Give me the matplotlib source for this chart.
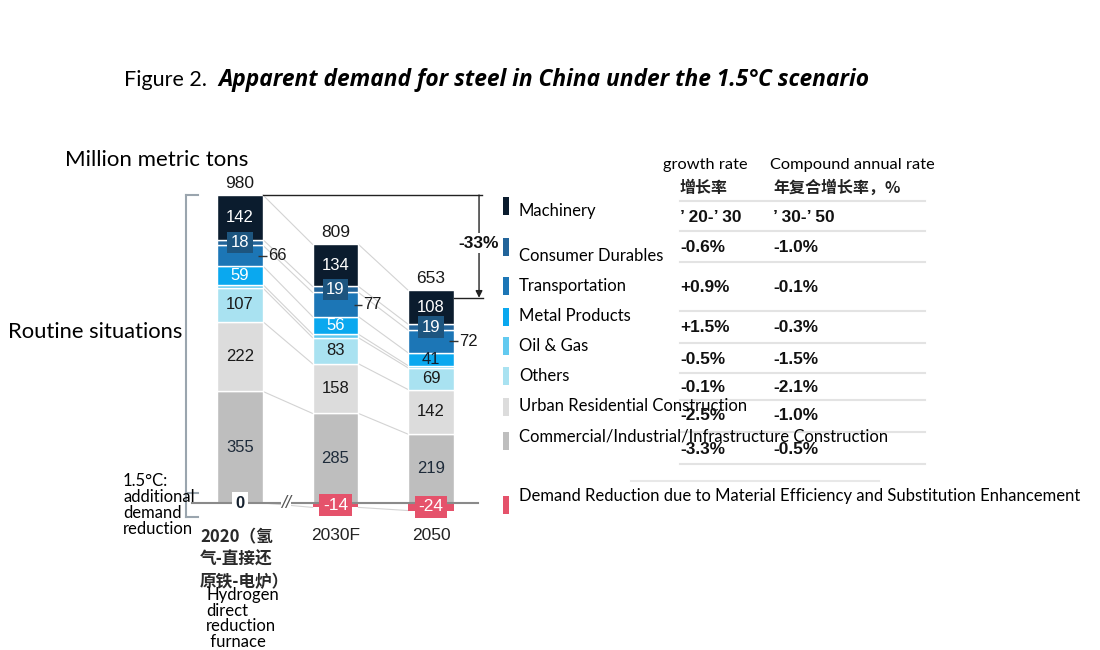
import matplotlib
matplotlib.use('Agg')
import matplotlib.pyplot as plt
from matplotlib.lines import Line2D
from matplotlib.patches import Rectangle
import numpy as np

# ---------------- data ----------------
years = ['2020', '2030F', '2050']
year_labels = ['2020（氢\n气-直接还\n原铁-电炉）', '2030F', '2050']
commercial = [355, 285, 219]
urban = [222, 158, 142]
others = [107, 83, 69]
oil_gas = [11, 11, 7]
metal = [59, 56, 41]
transport = [66, 77, 72]
durables = [18, 19, 19]
machinery = [142, 134, 108]
reduction = [0, -14, -24]
totals = [980, 809, 653]

legend_labels = ['Machinery', 'Consumer Durables', 'Transportation', 'Metal Products',
                 'Oil & Gas', 'Others', 'Urban Residential Construction',
                 'Commercial/Industrial/Infrastructure Construction',
                 'Demand Reduction due to Material Efficiency and Substitution Enhancement']

table_head_en = ['growth rate', 'Compound annual rate']
table_head_cn = ['增长率', '年复合增长率，%']
table_periods = ["’ 20-’ 30", "’ 30-’ 50"]
growth_20_30 = ['-0.6%', '+0.9%', '+1.5%', '-0.5%', '-0.1%', '-2.5%', '-3.3%']
cagr_30_50 = ['-1.0%', '-0.1%', '-0.3%', '-1.5%', '-2.1%', '-1.0%', '-0.5%']

# ---------------- styles ----------------
C_MACH = '#0B1C2E'
C_DUR = '#22649A'
C_DUR_BOX = '#1D557F'
C_TRANS = '#1C76B6'
C_METAL = '#0AA8EF'
C_OIL = '#62CAF0'
C_OTH = '#A9E2F1'
C_URB = '#DCDCDC'
C_COM = '#BEBEBE'
C_RED = '#E5526B'
SANS = 'Lato'
ARIAL = 'Liberation Sans'
CJK = 'Noto Sans CJK SC'

W, H = 1100, 650
fig = plt.figure(figsize=(11, 6.5), dpi=100)
fig.patch.set_facecolor('white')


def P(x, y):
    return x / W, 1 - y / H


# axes placement (pixel geometry)
PXU = (503 - 195) / 980.0
X0, DX = 240, 95.5
xlim = (-2.0, 3.0)
ylim = (-100, 1100)
lpx = X0 + xlim[0] * DX
rpx = X0 + xlim[1] * DX
tpx = 503 - ylim[1] * PXU
bpx = 503 - ylim[0] * PXU
ax = fig.add_axes([lpx / W, 1 - bpx / H, (rpx - lpx) / W, (bpx - tpx) / H])
ax.set_xlim(xlim)
ax.set_ylim(ylim)
ax.axis('off')

x = np.arange(len(years))
w = 0.48
stack = [commercial, urban, others, oil_gas, metal, transport, durables, machinery]
colors = [C_COM, C_URB, C_OTH, C_OIL, C_METAL, C_TRANS, C_DUR, C_MACH]

cum = np.zeros(len(years))
bounds = [cum.copy()]
for vals, c in zip(stack, colors):
    ax.bar(x, vals, bottom=cum, width=w, color=c, edgecolor='white', linewidth=1.0, zorder=3)
    cum = cum + np.array(vals)
    bounds.append(cum.copy())
tops = cum.copy()

# negative bars
ax.bar(x, reduction, width=w, color=C_RED, edgecolor='none', zorder=3)

# connectors
for i in range(len(years) - 1):
    for b in bounds:
        ax.plot([x[i] + w / 2, x[i + 1] - w / 2], [b[i], b[i + 1]], color='#D3D3D3', lw=0.8, zorder=1)
    ax.plot([x[i] + w / 2, x[i + 1] - w / 2], [reduction[i], reduction[i + 1]], color='#D3D3D3', lw=0.8, zorder=1)

# segment labels
def mid(k, i):
    return bounds[k][i] + stack[k][i] / 2.0

lab_fs = 12
for i in range(len(years)):
    ax.text(x[i], mid(0, i), str(commercial[i]), ha='center', va='center', fontsize=lab_fs,
            color='#1E2B3A', family=ARIAL, zorder=6)
    ax.text(x[i], mid(1, i), str(urban[i]), ha='center', va='center', fontsize=lab_fs,
            color='#1A1A1A', family=ARIAL, zorder=6)
    ax.text(x[i], mid(2, i), str(others[i]), ha='center', va='center', fontsize=lab_fs,
            color='#1A1A1A', family=ARIAL, zorder=6)
    ax.text(x[i], mid(4, i), str(metal[i]), ha='center', va='center', fontsize=lab_fs,
            color='white' if i < 2 else '#14202E', family=ARIAL, zorder=6)
    # transportation: outside label with leader
    ym = mid(5, i)
    ax.plot([x[i] + w / 2 - 0.05, x[i] + w / 2 + 0.04], [ym, ym], color='#333333', lw=1.0, zorder=6,
            solid_capstyle='butt')
    ax.text(x[i] + w / 2 + 0.05, ym, str(transport[i]), ha='left', va='center', fontsize=lab_fs,
            color='#1A1A1A', family=ARIAL, zorder=6)
    ax.text(x[i], mid(6, i), str(durables[i]), ha='center', va='center', fontsize=lab_fs,
            color='white', family=ARIAL, zorder=6,
            bbox=dict(boxstyle='square,pad=0.2', fc=C_DUR_BOX, ec='none'))
    ax.text(x[i], mid(7, i), str(machinery[i]), ha='center', va='center', fontsize=lab_fs,
            color='white', family=ARIAL, zorder=6)
    # totals
    ax.annotate(str(totals[i]), (x[i], tops[i]), xytext=(0, 3), textcoords='offset points',
                ha='center', va='bottom', fontsize=12.5, color='#1A1A1A', family=ARIAL, zorder=6)
    # reduction labels
    r = reduction[i]
    if r == 0:
        ax.text(x[i], r, str(r), ha='center', va='center', fontsize=12, color='#14202E',
                family=ARIAL, weight='bold', zorder=7,
                bbox=dict(boxstyle='square,pad=0.2', fc='white', ec='none'))
    else:
        ax.text(x[i], r / 2.0, str(r), ha='center', va='center', fontsize=12.5, color='white',
                family=ARIAL, zorder=7,
                bbox=dict(boxstyle='square,pad=0.2', fc=C_RED, ec='none'))

# baseline
ax.plot([x[0] - 0.5, x[-1] + 0.49], [0, 0], color='#8A8A8A', lw=1.5, zorder=4)
ax.text((x[0] + x[1]) / 2 - 0.02, 0, '//', ha='center', va='center', fontsize=13, color='#555555',
        family=ARIAL, style='italic', zorder=5,
        bbox=dict(boxstyle='square,pad=0.0', fc='white', ec='none'))

# -33% annotation
xa = x[-1] + 0.503
ax.plot([x[0] + w / 2, xa + 0.03], [totals[0], totals[0]], color='#222222', lw=1.0, zorder=4)
ax.plot([x[-1] + w / 2, xa + 0.04], [totals[-1], totals[-1]], color='#222222', lw=1.0, zorder=4)
ax.annotate('', xy=(xa, totals[-1]), xytext=(xa, totals[0]),
            arrowprops=dict(arrowstyle='-|>', color='#222222', lw=1.0, mutation_scale=10,
                            shrinkA=0, shrinkB=0), zorder=4)
pct = round((totals[-1] - totals[0]) / totals[0] * 100)
ax.text(xa, (totals[0] + totals[-1]) / 2 + 10, f'{pct}%', ha='center', va='center', fontsize=12.5,
        weight='bold', family=ARIAL, color='#111111', zorder=6,
        bbox=dict(boxstyle='square,pad=0.15', fc='white', ec='none'))

# bracket on the left
xb = x[0] - 0.565
br_col = '#9AA5AE'
ax.plot([xb, xb], [totals[0], -44], color=br_col, lw=1.5, zorder=2)
for yy in (totals[0], 32, -44):
    ax.plot([xb, xb + 0.13], [yy, yy], color=br_col, lw=1.5, zorder=2)

# x labels
ax.text(x[0] - 0.419, -80, year_labels[0], ha='left', va='top', fontsize=12, family=CJK,
        weight='bold', color='#2A2A2A', linespacing=1.32)
for i in (1, 2):
    ax.text(x[i], -102, year_labels[i], ha='center', va='center', fontsize=12.5, family=ARIAL,
            color='#222222')

# ---------------- figure-level texts ----------------
t1 = fig.text(*P(124, 86), 'Figure 2.', fontsize=15.5, family=SANS, va='baseline', ha='left')
fig.canvas.draw()
bb = t1.get_window_extent()
fig.text((bb.x1 + 11) / W, 1 - 86 / H,
         'Apparent demand for steel in China under the 1.5°C scenario',
         fontsize=16.4, family='Open Sans', weight='bold', style='italic', va='baseline', ha='left')

fig.text(*P(65, 160), 'Million metric tons', fontsize=16, family=SANS, va='center', ha='left')
fig.text(*P(8, 332), 'Routine situations', fontsize=15.8, family=SANS, va='center', ha='left')
fig.text(*P(123, 473), '1.5°C:\nadditional\ndemand\nreduction', fontsize=12, family=SANS,
         va='top', ha='left', linespacing=1.0)
fig.text(*P(206, 587), 'Hydrogen\ndirect\nreduction\n furnace', fontsize=12, family=SANS,
         va='top', ha='left', linespacing=0.97)

# legend
leg_cols = [C_MACH, C_DUR, C_TRANS, C_METAL, C_OIL, C_OTH, C_URB, C_COM, C_RED]
leg_marker_y = [206, 247, 286, 317, 346, 376, 407, 441, 505]
leg_text_y = [211, 256, 286, 316, 346, 376, 406, 436, 496]
for lab, c, my, ty in zip(legend_labels, leg_cols, leg_marker_y, leg_text_y):
    fig.add_artist(Rectangle(P(503, my + 9), 6 / W, 18 / H, transform=fig.transFigure,
                             fc=c, ec='none'))
    fig.text(*P(519, ty), lab, fontsize=12, family=SANS, va='center', ha='left')

# table
for txt, xx in zip(table_head_en, (663, 770)):
    fig.text(*P(xx, 165), txt, fontsize=11.8, family=SANS, va='center', ha='left')
for txt, xx in zip(table_head_cn, (680, 773)):
    fig.text(*P(xx, 188), txt, fontsize=11.5, family=CJK, weight='bold', va='center', ha='left',
             color='#222222')
for yy in (200.7, 231, 262, 311, 343, 373, 400, 432, 464):
    fig.add_artist(Line2D([680 / W, 925 / W], [1 - yy / H, 1 - yy / H], transform=fig.transFigure,
                          color='#E3E3E3', lw=1.5))
fig.add_artist(Line2D([631 / W, 879 / W], [1 - 481 / H, 1 - 481 / H], transform=fig.transFigure,
                      color='#E8E8E8', lw=1.5))
for txt, xx in zip(table_periods, (680, 773)):
    fig.text(*P(xx, 218), txt, fontsize=12.4, family=ARIAL, weight='bold', va='center', ha='left',
             color='#111111')
row_y = [247, 287, 327, 360, 388, 416, 450]
for g, cg, yy in zip(growth_20_30, cagr_30_50, row_y):
    fig.text(*P(680, yy), g, fontsize=12.4, family=ARIAL, weight='bold', va='center', ha='left',
             color='#111111')
    fig.text(*P(773, yy), cg, fontsize=12.4, family=ARIAL, weight='bold', va='center', ha='left',
             color='#111111')

fig.savefig('out.png', dpi=100, facecolor='white')
